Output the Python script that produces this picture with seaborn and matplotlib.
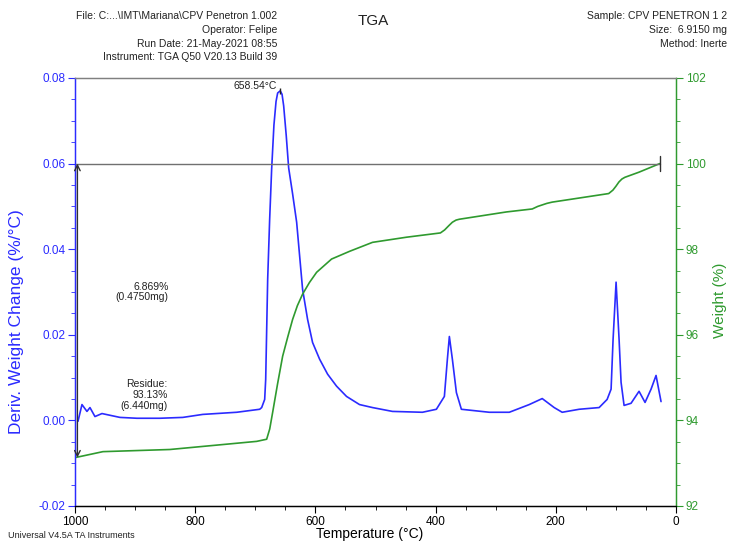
import numpy as np
import pandas as pd
import matplotlib
matplotlib.use("Agg")
import matplotlib.pyplot as plt
import seaborn as sns
from matplotlib.ticker import MultipleLocator, FormatStrFormatter

# ---- data ----
deriv_temp = [995.0, 988.4, 980.1, 975.1, 966.8, 955.1, 941.9, 925.2, 897.0, 858.8,
              820.6, 787.4, 730.9, 692.7, 689.4, 684.4, 682.7, 679.4, 676.1, 672.8,
              669.0, 665.5, 662.8, 658.5, 655.5, 652.8, 648.5, 644.5, 638.0, 631.2,
              621.3, 613.0, 604.7, 593.0, 579.7, 564.8, 548.2, 526.6, 505.0, 471.8,
              421.9, 398.7, 385.4, 380.4, 377.1, 372.1, 365.4, 357.1, 310.6, 277.4,
              244.2, 222.6, 202.7, 189.4, 161.1, 127.9, 114.6, 108.0, 104.7, 99.7,
              94.7, 91.4, 86.4, 74.8, 61.5, 51.5, 41.5, 33.2, 24.9]
deriv_value = [-0.0002, 0.0037, 0.0021, 0.0030, 0.0009, 0.0016, 0.0012, 0.0007, 0.0005, 0.0005,
               0.0007, 0.0014, 0.0019, 0.0026, 0.0030, 0.0049, 0.0096, 0.0330, 0.0470, 0.0587,
               0.0690, 0.0745, 0.0765, 0.0770, 0.0762, 0.0735, 0.0665, 0.0590, 0.0530, 0.0463,
               0.0306, 0.0236, 0.0182, 0.0143, 0.0108, 0.0080, 0.0056, 0.0037, 0.0030, 0.0021,
               0.0019, 0.0026, 0.0056, 0.0143, 0.0196, 0.0143, 0.0065, 0.0026, 0.0019, 0.0019,
               0.0037, 0.0051, 0.0030, 0.0019, 0.0026, 0.0030, 0.0049, 0.0073, 0.0189, 0.0323,
               0.0189, 0.0089, 0.0035, 0.0040, 0.0068, 0.0042, 0.0073, 0.0105, 0.0044]

weight_temp = [1000.0, 953.5, 842.2, 697.7, 681.1, 676.0, 671.1, 663.0, 654.5, 646.0,
               637.9, 630.0, 621.3, 610.0, 598.0, 573.1, 543.2, 505.0, 448.5, 392.0,
               385.0, 378.0, 372.1, 366.0, 360.5, 282.4, 239.2, 230.0, 215.0, 206.0,
               112.0, 105.0, 100.0, 95.0, 90.0, 85.0, 61.5, 27.0]
weight_value = [93.13, 93.27, 93.32, 93.51, 93.56, 93.80, 94.19, 94.85, 95.50, 95.95,
                96.36, 96.68, 96.95, 97.22, 97.46, 97.77, 97.95, 98.16, 98.28, 98.38,
                98.45, 98.55, 98.63, 98.68, 98.70, 98.87, 98.94, 99.00, 99.07, 99.10,
                99.30, 99.38, 99.47, 99.57, 99.64, 99.68, 99.80, 100.00]

x_ticks = [1000, 800, 600, 400, 200, 0]
left_ticks = [-0.02, 0.00, 0.02, 0.04, 0.06, 0.08]
right_ticks = [92, 94, 96, 98, 100, 102]

peak_temp = 658.54
peak_value = 0.0770

deriv_df = pd.DataFrame({"Temperature": deriv_temp, "Deriv": deriv_value})
weight_df = pd.DataFrame({"Temperature": weight_temp, "Weight": weight_value})

# ---- styling ----
sns.set_theme(style="white")
plt.rcParams["font.family"] = ["Liberation Sans", "DejaVu Sans"]

BLUE = "#2b2bff"
GREEN = "#2f9a2f"

fig = plt.figure(figsize=(7.31, 5.44), dpi=100)
ax = fig.add_axes([75 / 731, 1 - 506 / 544, (676 - 75) / 731, (506 - 78) / 544])
ax2 = ax.twinx()

sns.lineplot(data=deriv_df, x="Temperature", y="Deriv", ax=ax, color=BLUE,
             linewidth=1.2, sort=False)
sns.lineplot(data=weight_df, x="Temperature", y="Weight", ax=ax2, color=GREEN,
             linewidth=1.2, sort=False)

ax.set_xlim(1000, 0)
ax.set_ylim(-0.02, 0.08)
ax2.set_ylim(92, 102)

ax.set_xticks(x_ticks)
ax.xaxis.set_minor_locator(MultipleLocator(50))
ax.set_yticks(left_ticks)
ax.yaxis.set_minor_locator(MultipleLocator(0.005))
ax.yaxis.set_major_formatter(FormatStrFormatter("%.2f"))
ax2.set_yticks(right_ticks)
ax2.yaxis.set_minor_locator(MultipleLocator(0.5))

for a in (ax, ax2):
    a.tick_params(which="major", direction="out", length=5, width=0.8, labelsize=8.5, pad=2)
    a.tick_params(which="minor", direction="out", length=3, width=0.6)
    a.grid(False)

ax.tick_params(axis="x", which="both", bottom=True, colors="black", labelcolor="black")
ax.tick_params(axis="y", which="both", left=True, colors=BLUE, labelcolor=BLUE)
ax2.tick_params(axis="y", which="both", right=True, colors=GREEN, labelcolor=GREEN)

ax.spines["left"].set_color(BLUE)
ax2.spines["left"].set_color(BLUE)
ax2.spines["right"].set_color(GREEN)
ax.spines["right"].set_color(GREEN)
ax.spines["top"].set_color("#808080")
ax2.spines["top"].set_color("#808080")
ax.spines["bottom"].set_color("black")
ax2.spines["bottom"].set_color("black")
for a in (ax, ax2):
    for s in a.spines.values():
        s.set_linewidth(0.9)

ax.set_xlabel("Temperature (°C)", fontsize=10, color="black")
ax.xaxis.set_label_coords(0.49, -0.05)
ax.set_ylabel("Deriv. Weight Change (%/°C)", fontsize=12.5, color=BLUE)
ax.yaxis.set_label_coords(-0.085, 0.43)
ax2.set_ylabel("Weight (%)", fontsize=11, color=GREEN)
ax2.yaxis.set_label_coords(1.062, 0.48)

# weight change annotation
ax2.plot([1000, 27], [100, 100], color="#707070", linewidth=1.0)
ax2.plot([27, 27], [99.82, 100.18], color="#303030", linewidth=1.0)
ax2.annotate("", xy=(996, 100), xytext=(996, 93.13),
             arrowprops=dict(arrowstyle="<->", color="#303030", lw=1.0,
                             shrinkA=0, shrinkB=0, mutation_scale=10))
ax2.text(844, 97.0, "6.869%\n(0.4750mg)", ha="right", va="center", fontsize=7.5,
         color="#222222", linespacing=1.1)
ax2.text(846, 94.6, "Residue:\n93.13%\n(6.440mg)", ha="right", va="center",
         fontsize=7.5, color="#222222", linespacing=1.1)

# peak annotation
ax.plot([peak_temp], [peak_value], marker="|", color="#222222", markersize=5)
ax.text(664, 0.0781, "658.54°C", ha="right", va="center", fontsize=7.5, color="#222222")

# header texts
hdr = dict(fontsize=7.5, color="#222222", ha="right", va="center")
fig.text(277 / 731, 1 - 16 / 544, "File: C:...\\IMT\\Mariana\\CPV Penetron 1.002", **hdr)
fig.text(277 / 731, 1 - 30 / 544, "Operator: Felipe", **hdr)
fig.text(277 / 731, 1 - 44 / 544, "Run Date: 21-May-2021 08:55", **hdr)
fig.text(277 / 731, 1 - 57 / 544, "Instrument: TGA Q50 V20.13 Build 39", **hdr)
fig.text(727 / 731, 1 - 16 / 544, "Sample: CPV PENETRON 1 2", **hdr)
fig.text(727 / 731, 1 - 30 / 544, "Size:  6.9150 mg", **hdr)
fig.text(727 / 731, 1 - 44 / 544, "Method: Inerte", **hdr)
fig.text(373 / 731, 1 - 21 / 544, "TGA", fontsize=11, color="#222222", ha="center", va="center")
fig.text(8 / 731, 1 - 535 / 544, "Universal V4.5A TA Instruments", fontsize=6.5,
         color="#222222", ha="left", va="center")

fig.savefig("out.png", dpi=100)
